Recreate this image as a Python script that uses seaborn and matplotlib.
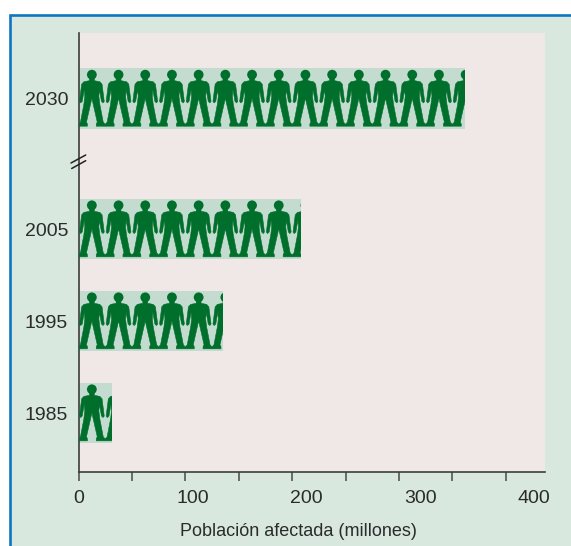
import numpy as np
import pandas as pd
import matplotlib
matplotlib.use("Agg")
import matplotlib.pyplot as plt
import seaborn as sns
from matplotlib.lines import Line2D
from matplotlib.patches import Ellipse, Polygon, Rectangle

# Affected population per year, in millions
years = ["1985", "1995", "2005", "2030"]
population = [31, 135, 208, 361.5]
# Row position on the broken vertical axis
rows = [0, 1, 2, 3.42]
x_ticks = [0, 50, 100, 150, 200, 250, 300, 350, 400]
x_tick_labels = [0, 100, 200, 300, 400]

W, H = 571, 546
PANEL = "#d8e8df"
PLOT_BG = "#f0e8e6"
BAND = "#c3dccf"
FIGURE = "#006f2c"
BORDER = "#0f75bd"
INK = "#2b2b2b"
AXIS = "#3d3d3d"
PEOPLE_UNIT = 25  # millions represented by one figure
BAR_WIDTH = 0.66
LABEL_STRETCH = 1.067  # the printed scale runs slightly wider than the tick marks

sns.set_style("white")
plt.rcParams["font.family"] = ["Liberation Sans", "DejaVu Sans"]

fig = plt.figure(figsize=(W / 100, H / 100), dpi=100, facecolor="white")
# Tinted panel with a blue rule on its left and top edges only
fig.add_artist(Rectangle((10 / W, -0.1), 1.1, 0.1 + (H - 15) / H,
                         transform=fig.transFigure, facecolor=PANEL,
                         edgecolor=BORDER, linewidth=1.9, zorder=-1))

left, right, top, bottom = 78.5, 545, 33, 472
ax = fig.add_axes([left / W, 1 - bottom / H, (right - left) / W, (bottom - top) / H])
ax.set_facecolor(PLOT_BG)

df = pd.DataFrame({"row": rows, "population": population})
sns.barplot(data=df, x="population", y="row", orient="y", native_scale=True,
            color=BAND, saturation=1, width=BAR_WIDTH, linewidth=0, ax=ax)
ax.set_xlim(0, (right - left) / 1.068)
ax.set_ylim(-(bottom - 413) / 92, (413 - top) / 92)

# Right half of one figure: offset from its centre and depth below the band top,
# measured on a 26.7 x 60 tile and mirrored for the left half
half = np.array([(2.4, 10), (2.4, 12.5), (8, 13.6), (10.2, 16), (12.4, 33), (11.2, 34.5),
                 (9.6, 33), (7.6, 21.5), (7, 28), (8, 36), (11.4, 53.5), (13.35, 55.6),
                 (13.35, 57.5), (4.4, 57.5), (4.4, 55.3), (5.4, 53.5), (0, 30)])
outline = np.vstack([half, (half[::-1] * [-1, 1])[1:]])
tile_w, tile_h = 26.7, 60.0


def draw_people(bar, value, base):
    """Fill a bar with repeated figures, cut off where the bar ends."""
    y0 = base + BAR_WIDTH / 2  # top edge of the band in row units
    for i in range(int(np.ceil(value / PEOPLE_UNIT))):
        xs = (i + 0.5 + outline[:, 0] / tile_w) * PEOPLE_UNIT
        ys = y0 - outline[:, 1] / tile_h * BAR_WIDTH
        body = Polygon(np.column_stack([xs, ys]), closed=True, facecolor=FIGURE,
                       edgecolor=FIGURE, linewidth=0.4, zorder=3)
        ax.add_patch(body)
        body.set_clip_path(bar)
        head = Ellipse(((i + 0.5) * PEOPLE_UNIT, y0 - 6.6 / tile_h * BAR_WIDTH),
                       2 * 4.9 / 1.068, 2 * 4.9 / 92,
                       facecolor=FIGURE, edgecolor="none", zorder=3)
        ax.add_patch(head)
        head.set_clip_path(bar)


for bar, value, base in zip(ax.containers[0], population, rows):
    draw_people(bar, value, base)

for side in ("top", "right"):
    ax.spines[side].set_visible(False)
for side in ("left", "bottom"):
    ax.spines[side].set_color(AXIS)
    ax.spines[side].set_linewidth(1.2)

ax.set_yticks(rows, years)
ax.tick_params(axis="y", length=0, pad=7.5, labelsize=14, labelcolor=INK)
ax.set_xticks(x_ticks)
ax.tick_params(axis="x", bottom=True, length=6.5, width=1.2, color="#555555", labelbottom=False)
ax.set_ylabel("")
ax.set_xlabel("")

# Value labels sit on their own slightly wider scale below the tick marks
labels_axis = ax.secondary_xaxis("bottom", functions=(lambda v: v / LABEL_STRETCH,
                                                      lambda v: v * LABEL_STRETCH))
labels_axis.set_xticks(x_tick_labels)
labels_axis.spines["bottom"].set_visible(False)
labels_axis.tick_params(axis="x", length=0, pad=13, labelsize=14, labelcolor=INK)

fig.text(298 / W, 1 - 532 / H, "Población afectada (millones)", ha="center",
         va="center", fontsize=13, color=INK)

# Axis-break marks on the vertical axis
for (x0, y0, x1, y1) in [(71, 163, 85.7, 155), (71.7, 168.5, 85.7, 160.7)]:
    fig.add_artist(Line2D([x0 / W, x1 / W], [1 - y0 / H, 1 - y1 / H],
                          transform=fig.transFigure, color="#222222", linewidth=1.1))

fig.savefig("out.png", dpi=100, facecolor="white")
